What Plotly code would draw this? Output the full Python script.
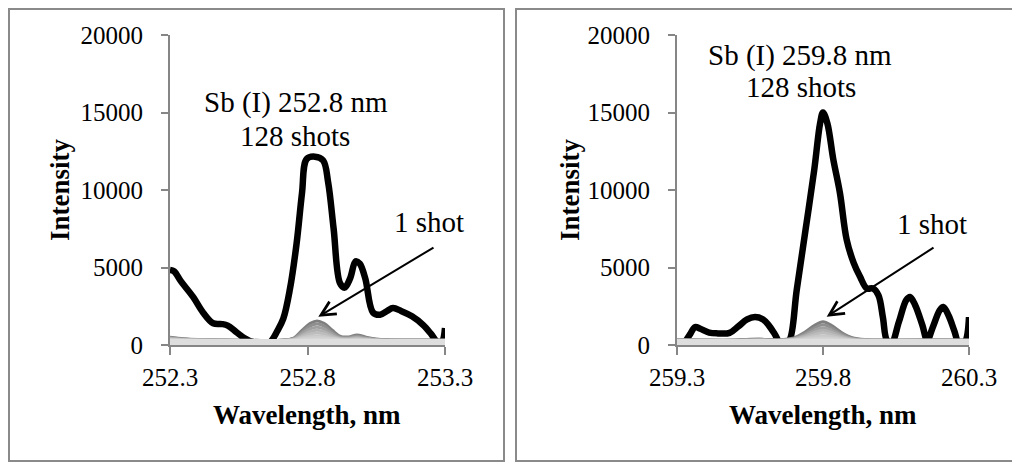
import plotly.graph_objects as go

# ---------------- data ----------------
# Panel 1: Sb (I) 252.8 nm, 128 shots (black)
x1_black = [252.300, 252.315, 252.340, 252.384, 252.420, 252.457, 252.490, 252.510, 252.540,
            252.570, 252.600, 252.640, 252.664, 252.690, 252.712, 252.736, 252.760, 252.780,
            252.797, 252.827, 252.857, 252.875, 252.895, 252.918, 252.935, 252.955, 252.975,
            252.990, 253.010, 253.038, 253.064, 253.090, 253.111, 253.140, 253.180, 253.220,
            253.250, 253.272, 253.288, 253.300]
y1_black = [4850, 4750, 4100, 3100, 2100, 1400, 1350, 1250, 850,
            450, 200, 150, 200, 900, 1700, 3600, 6500, 9800,
            12000, 12150, 11900, 10500, 7500, 4000, 3700, 4300, 5400,
            5250, 4300, 2100, 1950, 2200, 2380, 2200, 1850, 1300,
            700, 200, 200, 1100]

# Panel 1: single-shot spectra (grey)
x1_grey = [252.30, 252.35, 252.40, 252.50, 252.60, 252.70, 252.75, 252.78, 252.81, 252.835,
           252.86, 252.89, 252.92, 252.95, 252.98, 253.01, 253.05, 253.10, 253.20, 253.30]
y1_grey = [
    [500, 400, 350, 320, 300, 310, 450, 950, 1400, 1550, 1400, 950, 550, 520, 650, 520, 380, 330, 320, 320],
    [470, 390, 340, 310, 300, 300, 420, 850, 1230, 1350, 1220, 820, 500, 480, 580, 470, 360, 320, 310, 310],
    [440, 370, 330, 300, 290, 290, 400, 740, 1050, 1150, 1040, 720, 460, 440, 520, 430, 340, 310, 300, 300],
    [410, 350, 320, 300, 280, 280, 370, 630, 870, 950, 860, 600, 420, 400, 460, 400, 330, 300, 290, 290],
    [380, 330, 310, 290, 280, 280, 350, 540, 720, 780, 710, 520, 390, 370, 420, 370, 320, 290, 280, 280],
    [350, 320, 300, 280, 270, 270, 330, 450, 560, 600, 550, 430, 350, 340, 370, 340, 300, 280, 270, 270],
    [300, 280, 260, 250, 240, 240, 280, 360, 420, 450, 420, 350, 300, 290, 310, 290, 260, 250, 240, 240],
    [230, 220, 210, 200, 190, 190, 210, 250, 280, 290, 280, 250, 220, 215, 220, 215, 200, 195, 190, 190],
    [130, 130, 130, 130, 130, 130, 130, 130, 130, 130, 130, 130, 130, 130, 130, 130, 130, 130, 130, 130],
]

# Panel 2: Sb (I) 259.8 nm, 128 shots (black)
x2_black = [259.325, 259.345, 259.362, 259.380, 259.410, 259.440, 259.480, 259.510, 259.540,
            259.567, 259.595, 259.615, 259.635, 259.653, 259.670, 259.685, 259.710, 259.740,
            259.770, 259.790, 259.800, 259.815, 259.835, 259.858, 259.881, 259.905, 259.927,
            259.950, 259.971, 259.990, 260.005, 260.019, 260.035, 260.060, 260.085, 260.098,
            260.115, 260.140, 260.157, 260.175, 260.200, 260.212, 260.230, 260.250, 260.265,
            260.285, 260.300]
y2_black = [100, 700, 1150, 1050, 800, 750, 780, 1200, 1650,
            1800, 1650, 1250, 700, 150, 150, 300, 3550, 7400,
            11300, 14300, 15000, 14300, 12000, 9800, 6800, 5300, 4400,
            3650, 3650, 3200, 1800, 300, 150, 1500, 2900, 3100,
            2600, 1300, 300, 1100, 2250, 2450, 1900, 900, 150,
            200, 1800]

# Panel 2: single-shot spectra (grey)
x2_grey = [259.30, 259.40, 259.50, 259.58, 259.65, 259.70, 259.74, 259.77, 259.80, 259.83,
           259.86, 259.90, 259.95, 260.00, 260.10, 260.20, 260.30]
y2_grey = [
    [350, 320, 320, 380, 330, 450, 850, 1250, 1500, 1250, 850, 470, 340, 320, 320, 330, 320],
    [340, 310, 310, 360, 320, 420, 750, 1090, 1300, 1090, 750, 430, 330, 310, 310, 320, 310],
    [330, 300, 300, 340, 310, 400, 660, 950, 1120, 950, 660, 400, 320, 300, 300, 310, 300],
    [320, 290, 290, 330, 300, 380, 580, 810, 950, 810, 580, 380, 310, 290, 290, 300, 290],
    [310, 280, 280, 310, 290, 360, 500, 670, 780, 670, 500, 350, 300, 280, 280, 290, 280],
    [290, 270, 270, 290, 280, 330, 430, 530, 600, 530, 430, 320, 280, 270, 270, 280, 270],
    [260, 250, 250, 260, 250, 290, 340, 390, 420, 390, 340, 280, 250, 250, 250, 250, 250],
    [220, 215, 215, 220, 215, 230, 250, 270, 280, 270, 250, 230, 220, 215, 215, 215, 215],
    [130, 130, 130, 130, 130, 130, 130, 130, 130, 130, 130, 130, 130, 130, 130, 130, 130],
]

grey_colors = ["#7f7f7f", "#8f8f8f", "#a0a0a0", "#b0b0b0", "#bdbdbd",
               "#c8c8c8", "#d0d0d0", "#d7d7d7", "#dedede"]
grey_widths = [3, 3, 3, 3, 3, 3, 4, 5, 8]

y_ticks = [0, 5000, 10000, 15000, 20000]
x1_ticks = [252.3, 252.8, 253.3]
x2_ticks = [259.3, 259.8, 260.3]
x1_ticklabels = ["252.3", "252.8", "253.3"]
x2_ticklabels = ["259.3", "259.8", "260.3"]

# ---------------- figure ----------------
# the page body has an 8px margin, so the figure is laid out in page pixels minus 8
OFF = 8
W, H = 1020 - OFF, 462 - OFF
FONT = "Liberation Serif, Times New Roman, serif"
AX = "#868686"


def px(x):
    return (x - OFF) / W


def py(y):
    return 1 - (y - OFF) / H


fig = go.Figure()

for xs, ys_black, xg, yg, xa, ya in [
    (x1_black, y1_black, x1_grey, y1_grey, "x", "y"),
    (x2_black, y2_black, x2_grey, y2_grey, "x2", "y2"),
]:
    fig.add_trace(go.Scatter(x=xs, y=ys_black, mode="lines", xaxis=xa, yaxis=ya,
                             line=dict(color="black", width=6.5, shape="spline", smoothing=1.0),
                             showlegend=False, hoverinfo="skip"))
    for vals, col, lw in zip(yg, grey_colors, grey_widths):
        fig.add_trace(go.Scatter(x=xg, y=vals, mode="lines", xaxis=xa, yaxis=ya,
                                 line=dict(color=col, width=lw, shape="spline", smoothing=1.0),
                                 showlegend=False, hoverinfo="skip"))

y_dom = [py(345), py(35)]

common_x = dict(showgrid=False, zeroline=False, showline=True, linecolor=AX, linewidth=2,
                ticks="outside", ticklen=8, tickwidth=2, tickcolor=AX, automargin=False,
                tickfont=dict(family=FONT, size=25, color="black"), ticklabelstandoff=1)
common_y = dict(showgrid=False, zeroline=False, showline=True, linecolor=AX, linewidth=2,
                ticks="outside", ticklen=7, tickwidth=2, tickcolor=AX, range=[0, 20000],
                tickvals=y_ticks, ticktext=[str(v) for v in y_ticks], automargin=False,
                tickfont=dict(family=FONT, size=25, color="black"), ticklabelstandoff=13)

fig.update_layout(
    template="none",
    width=W, height=H,
    margin=dict(l=0, r=0, t=0, b=0, pad=0),
    paper_bgcolor="white", plot_bgcolor="white",
    xaxis=dict(domain=[px(170), px(445)], range=[252.3, 253.3], anchor="y",
               tickvals=x1_ticks, ticktext=x1_ticklabels, **common_x),
    yaxis=dict(domain=y_dom, anchor="x", **common_y),
    xaxis2=dict(domain=[px(677), px(969)], range=[259.3, 260.3], anchor="y2",
                tickvals=x2_ticks, ticktext=x2_ticklabels, **common_x),
    yaxis2=dict(domain=y_dom, anchor="x2", **common_y),
)

# panel borders
for x0, x1 in [(9, 504), (516, 1013)]:
    fig.add_shape(type="rect", xref="paper", yref="paper",
                  x0=px(x0), x1=px(x1), y0=py(461), y1=py(9),
                  line=dict(color="#8a8a8a", width=2), fillcolor="rgba(0,0,0,0)", layer="below")

tfont = dict(family=FONT, size=29, color="black")
bfont = dict(family=FONT, size=27, color="black")

ann = [
    dict(x=252.7575, y=15677, xref="x", yref="y", text="Sb (I) 252.8 nm", font=tfont),
    dict(x=252.7545, y=13484, xref="x", yref="y", text="128 shots", font=tfont),
    dict(x=253.242, y=7935, xref="x", yref="y", text="1 shot", font=tfont),
    dict(x=259.7212, y=18710, xref="x2", yref="y2", text="Sb (I) 259.8 nm", font=tfont),
    dict(x=259.724, y=16645, xref="x2", yref="y2", text="128 shots", font=tfont),
    dict(x=260.174, y=7826, xref="x2", yref="y2", text="1 shot", font=tfont),
    # axis titles
    dict(x=px(60), y=py(190), xref="paper", yref="paper", text="<b>Intensity</b>",
         textangle=-90, font=bfont),
    dict(x=px(570), y=py(190), xref="paper", yref="paper", text="<b>Intensity</b>",
         textangle=-90, font=bfont),
    dict(x=px(307), y=py(415), xref="paper", yref="paper", text="<b>Wavelength, nm</b>",
         font=bfont),
    dict(x=px(823), y=py(415), xref="paper", yref="paper", text="<b>Wavelength, nm</b>",
         font=bfont),
]
for a in ann:
    a.update(showarrow=False, xanchor="center", yanchor="middle")

arrows = [
    dict(x=252.8393, y=1826, ax=253.2636, ay=6344, xref="x", yref="y", axref="x", ayref="y"),
    dict(x=259.8126, y=1826, ax=260.1836, ay=6344, xref="x2", yref="y2", axref="x2", ayref="y2"),
]
for a in arrows:
    a.update(text="", showarrow=True, arrowhead=5, arrowsize=1.4, arrowwidth=2,
             arrowcolor="black", standoff=0, startstandoff=0)

fig.update_layout(annotations=ann + arrows)

fig.write_html("out.html")
